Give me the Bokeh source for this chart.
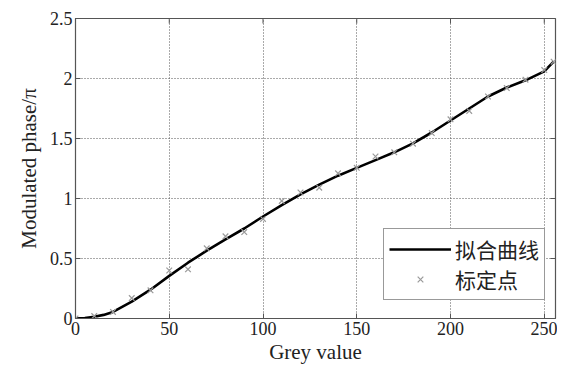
import math
from bokeh.plotting import figure
from bokeh.models import FixedTicker, Range1d, Legend, LegendItem
from bokeh.embed import file_html
from bokeh.resources import INLINE

# calibration points (grey value, modulated phase / pi)
cal_x = [0, 10, 20, 30, 40, 50, 60, 70, 80, 90, 100, 110, 120, 130, 140, 150,
         160, 170, 180, 190, 200, 210, 220, 230, 240, 250, 255]
cal_y = [0.0, 0.02, 0.055, 0.17, 0.235, 0.40, 0.41, 0.585, 0.685, 0.72, 0.83, 0.98,
         1.05, 1.09, 1.21, 1.256, 1.35, 1.385, 1.457, 1.545, 1.66, 1.73, 1.85, 1.92,
         1.99, 2.07, 2.14]

# fitted curve
fit_x = [0, 5, 10, 15, 20, 30, 40, 50, 60, 70, 80, 90, 100, 110, 120, 130, 140, 150,
         160, 170, 180, 190, 200, 210, 220, 230, 240, 250, 255]
fit_y = [0.0, 0.004, 0.015, 0.03, 0.055, 0.14, 0.24, 0.355, 0.465, 0.565, 0.66, 0.75,
         0.85, 0.945, 1.035, 1.115, 1.19, 1.255, 1.32, 1.385, 1.46, 1.55, 1.65, 1.75,
         1.85, 1.925, 1.985, 2.06, 2.14]

x_ticks = [0, 50, 100, 150, 200, 250]
y_ticks = [0, 0.5, 1, 1.5, 2, 2.5]
y_tick_labels = ["0", "0.5", "1", "1.5", "2", "2.5"]
x_lim = [0, 256]
y_lim = [0, 2.5]

SERIF = "Liberation Serif"
AXC = "#555555"

p = figure(width=557, height=366, output_backend="svg", toolbar_location=None,
           x_range=Range1d(*x_lim), y_range=Range1d(*y_lim),
           min_border_left=75, min_border_right=2, min_border_top=18, min_border_bottom=46)
p.outline_line_color = AXC
p.outline_line_width = 1.2

for ax in p.xaxis + p.yaxis:
    ax.major_label_text_font = SERIF
    ax.major_label_text_font_size = "18px"
    ax.major_label_text_color = "#222222"
    ax.axis_label_text_font = SERIF
    ax.axis_label_text_font_size = "21px"
    ax.axis_label_text_font_style = "normal"
    ax.axis_label_text_color = "#222222"
    ax.axis_line_color = AXC
    ax.major_tick_line_color = AXC
    ax.major_tick_in = 5
    ax.major_tick_out = 0
    ax.minor_tick_line_color = None

p.xaxis.ticker = FixedTicker(ticks=x_ticks)
p.yaxis.ticker = FixedTicker(ticks=y_ticks)
p.yaxis.major_label_overrides = {t: l for t, l in zip(y_ticks, y_tick_labels)}
p.xaxis.axis_label = "Grey value"
p.yaxis.axis_label = "Modulated phase/π"
p.xaxis.major_label_standoff = 3
p.xaxis.axis_label_standoff = 2
p.yaxis.major_label_standoff = 3
p.yaxis.axis_label_standoff = 6

p.xgrid.ticker = FixedTicker(ticks=x_ticks)
p.ygrid.ticker = FixedTicker(ticks=y_ticks)
for g in (p.xgrid[0], p.ygrid[0]):
    g.grid_line_color = "#555555"
    g.grid_line_dash = "1 2"
    g.grid_line_width = 1

# inward box ticks on top and right edges
p.ray(x=x_ticks, y=[y_lim[1]] * len(x_ticks), length=5, length_units="screen",
      angle=-math.pi / 2, line_color=AXC, line_width=1)
p.ray(x=[x_lim[1]] * len(y_ticks), y=y_ticks, length=5, length_units="screen",
      angle=math.pi, line_color=AXC, line_width=1)

line = p.line(fit_x, fit_y, line_color="black", line_width=2.6)
pts = p.scatter(cal_x, cal_y, marker="x", size=8, line_color="#9a9a9a", line_width=1.2)

legend = Legend(items=[LegendItem(label="拟合曲线", renderers=[line]),
                       LegendItem(label="标定点", renderers=[pts])],
                location=(308, 18))
legend.label_text_font = "Liberation Serif, Noto Sans CJK SC"
legend.label_text_font_size = "21px"
legend.label_text_color = "#222222"
legend.glyph_width = 62
legend.glyph_height = 20
legend.label_height = 20
legend.label_standoff = 4
legend.spacing = 0
legend.padding = 5
legend.margin = 0
legend.border_line_color = "#333333"
legend.border_line_width = 1
legend.background_fill_alpha = 1
p.add_layout(legend, "center")

open("out.html", "w").write(file_html(p, INLINE))
